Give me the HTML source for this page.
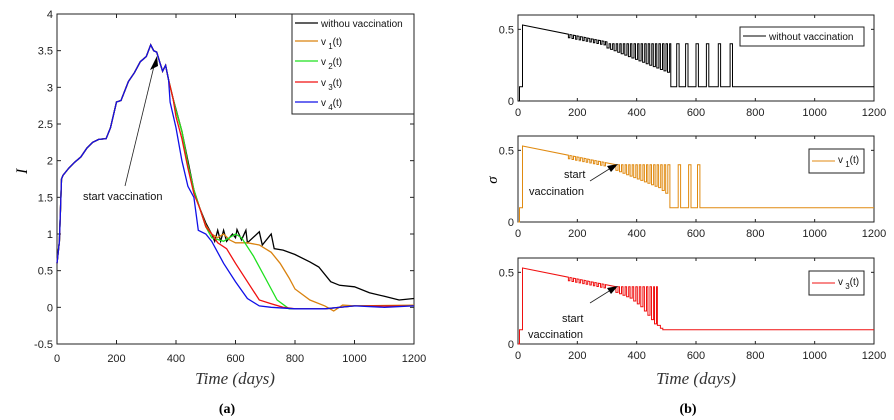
<!DOCTYPE html>
<html><head><meta charset="utf-8"><style>
body{margin:0;background:#fff;}
svg{display:block;font-family:"Liberation Sans",sans-serif;}
.tk{font-size:11px;fill:#222;}
</style></head><body>
<svg id="svg" width="894" height="420"></svg>
<script>
// ---- Panel (a) data: [day, I] ----
const commonI=[[0,0.6],[8,0.9],[15,1.75],[20,1.8],[40,1.9],[60,1.98],[80,2.05],[100,2.17],[120,2.25],[140,2.29],[165,2.3],[180,2.45],[200,2.8],[215,2.82],[240,3.08],[260,3.2],[280,3.35],[300,3.42],[315,3.58],[325,3.5],[335,3.48],[345,3.35],[355,3.22],[365,3.3],[375,3.1]];
const blackI=[[390,2.85],[400,2.7],[420,2.4],[440,2.0],[460,1.6],[480,1.35],[500,1.15],[520,1.0],[530,0.9],[540,1.05],[550,0.9],[560,1.05],[570,0.9],[590,1.0],[600,0.95],[605,1.06],[620,0.92],[635,1.05],[640,0.88],[680,1.03],[690,0.85],[720,1.0],[730,0.8],[760,0.78],[800,0.72],[850,0.62],[880,0.55],[920,0.35],[950,0.3],[1000,0.28],[1050,0.2],[1100,0.15],[1150,0.1],[1200,0.12]];
const v1I=[[390,2.85],[400,2.68],[420,2.4],[440,1.95],[460,1.6],[480,1.35],[500,1.12],[520,1.0],[540,0.95],[560,1.0],[580,0.92],[600,0.88],[640,0.88],[680,0.85],[720,0.75],[750,0.6],[780,0.4],[800,0.25],[850,0.1],[900,0.02],[930,-0.05],[960,0.03],[1000,0.02],[1200,0.03]];
const v2I=[[390,2.85],[400,2.68],[420,2.4],[440,1.95],[460,1.6],[480,1.35],[500,1.1],[520,0.95],[560,0.9],[600,1.0],[620,0.95],[660,0.7],[700,0.4],[740,0.1],[780,-0.02],[800,-0.02],[900,-0.02],[1000,0.02],[1200,0.02]];
const v3I=[[390,2.85],[400,2.6],[420,2.3],[440,1.9],[460,1.55],[480,1.35],[500,1.1],[520,1.0],[540,0.88],[570,0.8],[600,0.6],[640,0.35],[680,0.1],[720,0.05],[760,0.0],[800,-0.02],[900,-0.02],[1000,0.02],[1200,0.02]];
const v4I=[[380,2.8],[400,2.45],[420,2.0],[440,1.65],[460,1.5],[475,1.05],[500,1.0],[520,0.9],[560,0.6],[600,0.35],[640,0.12],[680,0.02],[720,0.0],[800,-0.02],[900,-0.02],[1000,0.02],[1100,0.0],[1200,0.02]];
const xTicks=[0,200,400,600,800,1000,1200];
const yTicksA=[-0.5,0,0.5,1,1.5,2,2.5,3,3.5,4];
// ---- Panel (b) data ----
const notchDays=[170,182,194,206,218,230,242,254,266,278,290];
const blackCombDays=[300,312,324,336,348,360,372,384,396,408,420,432,444,456,468,480,492,504];
const blackCombLow=[0.37,0.36,0.35,0.34,0.33,0.32,0.31,0.30,0.29,0.28,0.27,0.26,0.25,0.24,0.23,0.22,0.21,0.20];
const blackPulses=[535,565,600,635,675,715];
const v1CombDays=[330,342,354,366,378,390,402,414,426,438,450,462,474,486,498];
const v1CombLow=[0.36,0.35,0.34,0.33,0.32,0.31,0.30,0.29,0.28,0.27,0.26,0.25,0.24,0.22,0.2];
const v1Pulses=[540,575,605];
const v3CombDays=[330,342,354,366,378,390,402,414,426,438,450,460];
const v3CombLow=[0.36,0.35,0.34,0.33,0.32,0.30,0.28,0.26,0.23,0.2,0.17,0.14];

const svg=document.getElementById('svg');
const NS='http://www.w3.org/2000/svg';
function mk(tag,at,parent){const e=document.createElementNS(NS,tag);for(const k in at)e.setAttribute(k,at[k]);(parent||svg).appendChild(e);return e;}
function txt(x,y,s,at){const e=mk('text',Object.assign({x:x,y:y},at||{}));e.textContent=s;return e;}

// Panel A
const A={x0:57,x1:414,y0:14,y1:344,ymin:-0.5,ymax:4};
const ax=d=>A.x0+(d/1200)*(A.x1-A.x0);
const ay=v=>A.y1-(v-A.ymin)/(A.ymax-A.ymin)*(A.y1-A.y0);
let r=mk('rect',{x:A.x0,y:A.y0,width:A.x1-A.x0,height:A.y1-A.y0,fill:'none',stroke:'#222','stroke-width':1});

xTicks.forEach(t=>{mk('line',{x1:ax(t),x2:ax(t),y1:A.y1,y2:A.y1-4,stroke:'#222'});mk('line',{x1:ax(t),x2:ax(t),y1:A.y0,y2:A.y0+4,stroke:'#222'});
 const e=txt(ax(t),362,t,{'text-anchor':'middle',class:'tk'});});
yTicksA.forEach(t=>{mk('line',{x1:A.x0,x2:A.x0+4,y1:ay(t),y2:ay(t),stroke:'#222'});mk('line',{x1:A.x1,x2:A.x1-4,y1:ay(t),y2:ay(t),stroke:'#222'});
 const e=txt(A.x0-4,ay(t)+4,t,{'text-anchor':'end',class:'tk'});});
function line(pts,col,name){const p=mk('polyline',{points:pts.map(q=>ax(q[0]).toFixed(1)+','+ay(q[1]).toFixed(1)).join(' '),fill:'none',stroke:col,'stroke-width':1.3});
 }
line(commonI.concat(blackI),'#000','series-without-vaccination');
line(commonI.concat(v1I),'#d9820f','series-v1');
line(commonI.concat(v2I),'#1ee01e','series-v2');
line(commonI.concat(v3I),'#f01010','series-v3');
line(commonI.concat(v4I),'#1010e8','series-v4');
mk('line',{x1:125,y1:186,x2:155,y2:62,stroke:'#222','stroke-width':0.8});
mk('polygon',{points:'157,56 150,70 158,66',fill:'#000'});
let e=txt(83,200,'start vaccination',{'font-size':11,fill:'#111'});
// legend A
const lg=mk('g',{});
mk('rect',{x:292,y:14,width:122,height:100,fill:'#fff',stroke:'#222'},lg);
[['withou vaccination','#000',23],['v1(t)','#d9820f',41],['v2(t)','#1ee01e',61],['v3(t)','#f01010',82],['v4(t)','#1010e8',102]].forEach((L,i)=>{
 mk('line',{x1:295,x2:318,y1:L[2],y2:L[2],stroke:L[1],'stroke-width':1.3},lg);
 const t=mk('text',{x:321,y:L[2]+4,'font-size':10,fill:'#111'},lg);
 if(i==0)t.textContent=L[0];else{t.textContent='v';const s=mk('tspan',{dy:4,'font-size':8},t);s.textContent=' '+i;const s2=mk('tspan',{dy:-4},t);s2.textContent='(t)';}
 });
e=txt(A.x0-25,(A.y0+A.y1)/2,'I',{'font-family':'Liberation Serif,serif','font-style':'italic','font-size':16,transform:`rotate(-90 ${A.x0-30} ${(A.y0+A.y1)/2})`});
e=txt(235,384,'Time (days)',{'text-anchor':'middle','font-family':'Liberation Serif,serif','font-style':'italic','font-size':17,fill:'#333'});
e=txt(227,413,'(a)',{'text-anchor':'middle','font-family':'Liberation Serif,serif','font-weight':'bold','font-size':14});

// Panel B
const bx=d=>518+(d/1200)*(874-518);
function stepSeries(combDays,combLow,combEnd,pulses,tailLevel,extraTail){
 const pts=[[0,0],[5,0],[5,0.1],[15,0.1],[15,0.53]];
 const top=d=>0.53-(d-15)*(0.53-0.4)/(330-15);
 notchDays.forEach(d=>{if(d<combDays[0]){pts.push([d,top(d)]);pts.push([d,top(d)-0.025]);pts.push([d+5,top(d)-0.025]);pts.push([d+5,top(d+5)]);}});
 pts.push([combDays[0],Math.max(0.4,top(combDays[0]))]);
 combDays.forEach((d,i)=>{pts.push([d,0.4]);pts.push([d,combLow[i]]);pts.push([d+7,combLow[i]]);pts.push([d+7,0.4]);});
 pts.push([combEnd,0.4]);
 (extraTail||[]).forEach(q=>pts.push(q));
 pts.push([combEnd+(extraTail?18:0),tailLevel]);
 pulses.forEach(d=>{pts.push([d,tailLevel]);pts.push([d,0.4]);pts.push([d+8,0.4]);pts.push([d+8,tailLevel]);});
 pts.push([1200,tailLevel]);return pts;}
const panels=[
 {y0:15,y1:101,col:'#000',pts:stepSeries(blackCombDays,blackCombLow,515,blackPulses,0.1),leg:'without vaccination',name:'sigma-without-vaccination',ann:false},
 {y0:136,y1:222,col:'#e08a10',pts:stepSeries(v1CombDays,v1CombLow,512,v1Pulses,0.1),leg:'1',name:'sigma-v1',ann:true},
 {y0:258,y1:344,col:'#f01010',pts:stepSeries(v3CombDays,v3CombLow,470,[],0.1,[[470,0.13],[480,0.13],[480,0.11],[488,0.11]]),leg:'3',name:'sigma-v3',ann:true}];
panels.forEach((P,k)=>{
 const by=v=>P.y1-(v/0.6)*(P.y1-P.y0);
 const g=mk('g',{});
 mk('rect',{x:518,y:P.y0,width:356,height:P.y1-P.y0,fill:'none',stroke:'#222'},g);
 xTicks.forEach(t=>{mk('line',{x1:bx(t),x2:bx(t),y1:P.y1,y2:P.y1-3,stroke:'#222'},g);mk('line',{x1:bx(t),x2:bx(t),y1:P.y0,y2:P.y0+3,stroke:'#222'},g);
  const e=mk('text',{x:bx(t),y:P.y1+15,'text-anchor':'middle',class:'tk'},g);e.textContent=t;});
 [0,0.5].forEach(t=>{mk('line',{x1:518,x2:521,y1:by(t),y2:by(t),stroke:'#222'},g);mk('line',{x1:874,x2:871,y1:by(t),y2:by(t),stroke:'#222'},g);
  const e=mk('text',{x:514,y:by(t)+4,'text-anchor':'end',class:'tk'},g);e.textContent=t;});
 const p=mk('polyline',{points:P.pts.map(q=>bx(q[0]).toFixed(1)+','+by(q[1]).toFixed(1)).join(' '),fill:'none',stroke:P.col,'stroke-width':1},g);
 
 const lx=k==0?740:809,ly=P.y0+(k==0?12:13),lw=k==0?124:55;
 const lr=mk('rect',{x:lx,y:ly,width:lw,height:k==0?19:24,fill:'#fff',stroke:'#222'},g);
 mk('line',{x1:lx+3,x2:lx+26,y1:ly+(k==0?9:12),y2:ly+(k==0?9:12),stroke:P.col},g);
 const t=mk('text',{x:lx+29,y:ly+(k==0?13:14),'font-size':10,fill:'#111'},g);
 if(k==0)t.textContent=P.leg;else{t.textContent='v';const s=mk('tspan',{dy:4,'font-size':8},t);s.textContent=' '+P.leg;const s2=mk('tspan',{dy:-4},t);s2.textContent='(t)';}
 
 if(P.ann){const yb=k==1?0:122;
  mk('line',{x1:590,y1:181+yb,x2:614,y2:166+yb,stroke:'#222','stroke-width':0.8},g);
  mk('polygon',{points:`618,164 ${607},${166+yb-(yb?0:0)} 611,171`.replace('166','166').split(' ').map((s,i)=>i==0?`618,${164+yb}`:i==1?`607,${166+yb}`:`611,${172+yb}`).join(' '),fill:'#000'},g);
  const a=mk('text',{x:k==1?564:562,y:(k==1?178:322),'font-size':11,fill:'#111'},g);a.textContent='start';
  const b=mk('text',{x:k==1?529:528,y:(k==1?195:338),'font-size':11,fill:'#111'},g);b.textContent='vaccination';}
});
e=txt(497,180,'σ',{'font-family':'Liberation Serif,serif','font-style':'italic','font-size':15,transform:'rotate(-90 497 180)','text-anchor':'middle'});
e=txt(696,384,'Time (days)',{'text-anchor':'middle','font-family':'Liberation Serif,serif','font-style':'italic','font-size':17,fill:'#333'});
e=txt(688,413,'(b)',{'text-anchor':'middle','font-family':'Liberation Serif,serif','font-weight':'bold','font-size':14});
</script>
</body></html>
